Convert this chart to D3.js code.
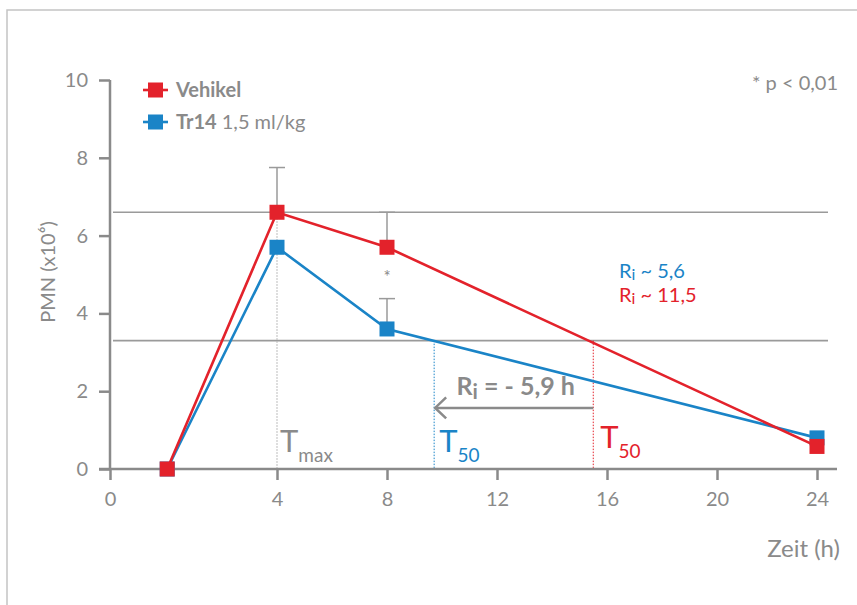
<!DOCTYPE html>
<html lang="de">
<head>
<meta charset="utf-8">
<title>PMN</title>
<style>
  body { margin: 0; background: #fff; }
  svg text { font-family: Lato, "Open Sans", sans-serif; fill: #8a8a8a; }
</style>
</head>
<body>
<div id="chart"></div>
<script src="https://d3js.org/d3.v7.min.js"></script>
<script>
  // data
  var times = [1.37, 4, 8, 24];
  var vehikel = [0, 6.6, 5.7, 0.58];
  var tr14 = [0, 5.7, 3.6, 0.8];
  var vehikelErr = [0, 1.15, 0.9, 0];
  var tr14Err = [0, 0, 0.78, 0];
  var xTicks = [0, 4, 8, 12, 16, 20, 24];
  var yTicks = [0, 2, 4, 6, 8, 10];
  var peak = 6.6, half = 3.3;
  var arrowLevel = 1.57;

  var red = "#e3222b", blue = "#1a84c7", grey = "#8a8a8a";

  var width = 857, height = 605;
  var svg = d3.select("#chart").append("svg")
    .attr("width", width).attr("height", height);

  // frame
  svg.append("rect")
    .attr("x", 7).attr("y", 10).attr("width", 900).attr("height", 700)
    .attr("fill", "none").attr("stroke", "#c4c4c4").attr("stroke-width", 1.5);

  var x = d3.scaleLinear().domain([0, 4, 20, 24]).range([110, 277, 717, 817]);
  var y = d3.scaleLinear().domain([0, 10]).range([469, 80]);

  // threshold lines
  svg.selectAll(".thr").data([peak, half]).enter().append("line")
    .attr("x1", 113).attr("x2", 828)
    .attr("y1", function (d) { return y(d); }).attr("y2", function (d) { return y(d); })
    .attr("stroke", "#9a9a9a").attr("stroke-width", 1.6);

  // T50 from linear interpolation
  function t50(vals) {
    for (var i = 1; i < vals.length - 1; i++) {
      if (vals[i] >= half && vals[i + 1] < half) {
        return times[i] + (vals[i] - half) / (vals[i] - vals[i + 1]) * (times[i + 1] - times[i]);
      }
    }
  }
  var tRed = t50(vehikel), tBlue = t50(tr14);

  // dotted verticals
  svg.append("line")
    .attr("x1", x(4)).attr("x2", x(4)).attr("y1", y(peak)).attr("y2", y(0))
    .attr("stroke", "#b5b5b5").attr("stroke-width", 1.2).attr("stroke-dasharray", "1.5,1.5");
  svg.append("line")
    .attr("x1", x(tBlue)).attr("x2", x(tBlue)).attr("y1", y(half)).attr("y2", y(0))
    .attr("stroke", blue).attr("stroke-width", 1).attr("stroke-dasharray", "1.5,1.5");
  svg.append("line")
    .attr("x1", x(tRed)).attr("x2", x(tRed)).attr("y1", y(half)).attr("y2", y(0))
    .attr("stroke", red).attr("stroke-width", 1).attr("stroke-dasharray", "1.5,1.5");

  // axes
  var yAxis = svg.append("g")
    .attr("transform", "translate(110,0)")
    .call(d3.axisLeft(y).tickValues(yTicks).tickSize(11).tickPadding(11).tickSizeOuter(0));
  var xAxis = svg.append("g")
    .attr("transform", "translate(0,469)")
    .call(d3.axisBottom(x).tickValues(xTicks).tickSize(11).tickPadding(12).tickSizeOuter(0));
  [yAxis, xAxis].forEach(function (g) {
    g.select(".domain").remove();
    g.selectAll(".tick line").attr("stroke", grey).attr("stroke-width", 2.5);
    g.selectAll(".tick text").style("font-size", "20px").style("font-family", "Lato").attr("fill", grey);
  });
  svg.append("line").attr("x1", 110).attr("x2", 110).attr("y1", y(10)).attr("y2", y(0) + 1)
    .attr("stroke", grey).attr("stroke-width", 2.5);
  svg.append("line").attr("x1", 99).attr("x2", 837).attr("y1", y(0)).attr("y2", y(0))
    .attr("stroke", grey).attr("stroke-width", 2.5);

  // error bars (upward only)
  function errBars(vals, errs) {
    var d = times.map(function (t, i) { return { t: t, v: vals[i], e: errs[i] }; })
      .filter(function (p) { return p.e > 0; });
    var g = svg.append("g").attr("stroke", "#9a9a9a").attr("stroke-width", 1.5);
    g.selectAll(".eb").data(d).enter().append("line")
      .attr("x1", function (p) { return x(p.t); }).attr("x2", function (p) { return x(p.t); })
      .attr("y1", function (p) { return y(p.v); }).attr("y2", function (p) { return y(p.v + p.e); });
    g.selectAll(".ec").data(d).enter().append("line")
      .attr("x1", function (p) { return x(p.t) - 8; }).attr("x2", function (p) { return x(p.t) + 8; })
      .attr("y1", function (p) { return y(p.v + p.e); }).attr("y2", function (p) { return y(p.v + p.e); });
  }
  errBars(vehikel, vehikelErr);
  errBars(tr14, tr14Err);

  // asterisk
  svg.append("text").attr("x", x(8)).attr("y", 283).attr("text-anchor", "middle")
    .style("font-size", "17px").text("*");

  var line = d3.line()
    .x(function (d, i) { return x(times[i]); })
    .y(function (d) { return y(d); });

  function series(vals, color) {
    svg.append("path").datum(vals).attr("d", line)
      .attr("fill", "none").attr("stroke", color).attr("stroke-width", 2.6);
    svg.selectAll(null).data(vals).enter().append("rect")
      .attr("x", function (d, i) { return x(times[i]) - 7.5; })
      .attr("y", function (d) { return y(d) - 7.5; })
      .attr("width", 15).attr("height", 15).attr("fill", color);
  }
  series(tr14, blue);
  series(vehikel, red);

  // arrow between T50s
  var ay = y(arrowLevel);
  svg.append("line").attr("x1", x(tRed)).attr("x2", x(tBlue) + 1).attr("y1", ay).attr("y2", ay)
    .attr("stroke", grey).attr("stroke-width", 2.5);
  svg.append("path")
    .attr("d", "M" + (x(tBlue) + 12) + "," + (ay - 10.5) + "L" + (x(tBlue) + 1) + "," + ay + "L" + (x(tBlue) + 12) + "," + (ay + 10.5))
    .attr("fill", "none").attr("stroke", grey).attr("stroke-width", 2.5);
  var ri = svg.append("text").attr("x", (x(tRed) + x(tBlue)) / 2 + 2).attr("y", ay - 13)
    .attr("text-anchor", "middle").style("font-size", "25px").style("font-weight", "bold");
  ri.append("tspan").text("R");
  ri.append("tspan").attr("dy", 4).style("font-size", "21px").text("i");
  ri.append("tspan").attr("dy", -4).text(" = - 5,9 h");

  // T labels
  function tLabel(xp, yp, sub, color) {
    var t = svg.append("text").attr("x", xp).attr("y", yp).attr("fill", color).style("fill", color);
    t.append("tspan").style("font-size", "31px").text("T");
    t.append("tspan").attr("dy", 10).style("font-size", "19px").text(sub);
  }
  tLabel(x(4) + 3, 452, "max", "#8a8a8a");
  tLabel(x(tBlue) + 5, 452, "50", blue);
  tLabel(x(tRed) + 7, 448, "50", red);

  // R_i values
  function riLabel(yp, val, color) {
    var t = svg.append("text").attr("x", 619).attr("y", yp).style("fill", color).style("font-size", "20px");
    t.append("tspan").text("R");
    t.append("tspan").attr("dy", 2).style("font-size", "16px").text("i");
    t.append("tspan").attr("dy", -2).text(" ~ " + val);
  }
  riLabel(278, "5,6", blue);
  riLabel(302, "11,5", red);

  // significance note
  svg.append("text").attr("x", 838).attr("y", 90).attr("text-anchor", "end")
    .style("font-size", "20px").text("* p < 0,01");

  // legend
  var legend = [
    { color: red, bold: "Vehikel", rest: "", y: 90 },
    { color: blue, bold: "Tr14", rest: " 1,5 ml/kg", y: 122 }
  ];
  legend.forEach(function (l) {
    svg.append("line").attr("x1", 143).attr("x2", 168).attr("y1", l.y).attr("y2", l.y)
      .attr("stroke", l.color).attr("stroke-width", 2.6);
    svg.append("rect").attr("x", 148).attr("y", l.y - 7.5).attr("width", 15).attr("height", 15)
      .attr("fill", l.color);
    var t = svg.append("text").attr("x", 176).attr("y", l.y + 7).style("font-size", "20px");
    t.append("tspan").style("font-weight", "bold").text(l.bold);
    t.append("tspan").text(l.rest);
  });

  // axis titles
  svg.append("text").attr("transform", "translate(55,272) rotate(-90)")
    .attr("text-anchor", "middle").style("font-size", "20px")
    .text("PMN (x10⁶)");
  svg.append("text").attr("x", 840).attr("y", 557).attr("text-anchor", "end")
    .style("font-size", "24px").text("Zeit (h)");
</script>
</body>
</html>
